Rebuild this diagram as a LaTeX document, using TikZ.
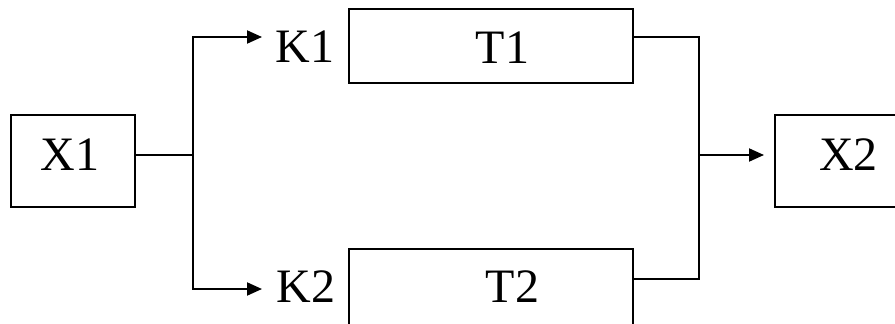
\documentclass[tikz,border=0pt]{standalone}
\usepackage{fontspec}
\setmainfont{Liberation Serif}
\usetikzlibrary{arrows.meta}
\begin{document}
\begin{tikzpicture}[x=1pt,y=-1pt,
  box/.style={draw,line width=1.5pt,inner sep=0pt,minimum width=124pt,minimum height=92pt},
  longbox/.style={draw,line width=1.5pt,inner sep=0pt,minimum width=284pt,minimum height=74pt},
  txt/.style={inner sep=0pt,anchor=base,font=\fontsize{48}{50}\selectfont},
  conn/.style={line width=2pt},
  arr/.style={conn,-{Triangle[length=15pt,width=13pt]}}]
\useasboundingbox (0,0) rectangle (895,324);
\node[box] (x1) at (73,161) {};
\node[box] (x2) at (837,161) {};
\node[longbox] (t1) at (491,46) {};
\node[longbox,minimum height=80pt] (t2) at (491,289) {};
\node[txt] (x1t) at (70,170) {X1};
\node[txt] (x2t) at (848.5,170) {X2};
\node[txt] (t1t) at (502.5,63) {T1};
\node[txt] (t2t) at (512.5,302) {T2};
\node[txt] (k1) at (305,62) {K1};
\node[txt] (k2) at (306,302) {K2};
\coordinate (j1) at (193,155);
\coordinate (a1) at (262,37);
\coordinate (a2) at (262,289);
\coordinate (j2) at (699,155);
\coordinate (r1) at (699,37);
\coordinate (r2) at (699,279);
\coordinate (a3) at (764,155);
\draw[conn] (x1.east |- j1) -- (j1);
\draw[arr] (j1) |- (a1);
\draw[arr] (j1) |- (a2);
\draw[conn] (t1.east |- r1) -- (r1) -- (r2) -- (t2.east |- r2);
\draw[arr] (j2) -- (a3);
\end{tikzpicture}
\end{document}
